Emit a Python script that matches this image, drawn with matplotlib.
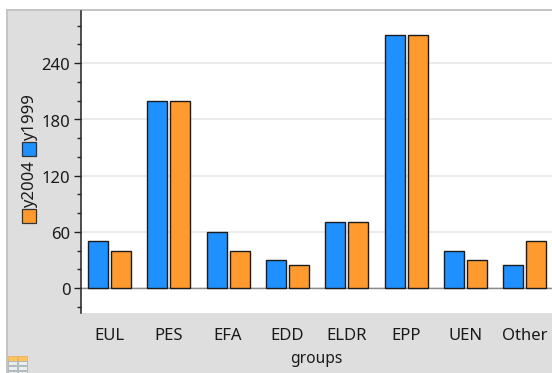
import matplotlib
matplotlib.use("Agg")
import matplotlib.pyplot as plt
from matplotlib.patches import Rectangle
from matplotlib.ticker import MultipleLocator
from matplotlib.transforms import ScaledTranslation
import numpy as np

groups = ["EUL", "PES", "EFA", "EDD", "ELDR", "EPP", "UEN", "Other"]
y1999 = [50, 200, 60, 30, 70, 270, 40, 25]
y2004 = [40, 200, 40, 25, 70, 270, 30, 50]

W, H = 552, 373
BLUE, ORANGE = "#1e90ff", "#ff9a2e"
BG = "#dedede"
TXT = "#1a1a1a"
plt.rcParams["font.family"] = ["Noto Sans", "DejaVu Sans"]
fig = plt.figure(figsize=(W / 100, H / 100), dpi=100, facecolor="white")

def fx(p): return p / W
def fy(p): return 1 - p / H

# panel background and its grey top/left border (behind the axes)
fig.add_artist(Rectangle((fx(7), 0), fx(W - 7), fy(11), transform=fig.transFigure, fc=BG, ec="none", zorder=-5))
fig.add_artist(Rectangle((fx(6), fy(11)), fx(W - 6), 2 / H, transform=fig.transFigure, fc="#c4c4c4", ec="none", zorder=-4))
fig.add_artist(Rectangle((fx(6), 0), 2 / W, fy(10), transform=fig.transFigure, fc="#c4c4c4", ec="none", zorder=-4))

ax = fig.add_axes([fx(81), fy(312.5), fx(W - 81), (312.5 - 11) / H])
ax.set_facecolor("white")
x = np.arange(len(groups))
bw, off = 0.335, 0.194
common = dict(edgecolor="#1c1c1c", linewidth=1.0, zorder=3)
ax.bar(x - off, y1999, bw, color=BLUE, **common)
ax.bar(x + off, y2004, bw, color=ORANGE, **common)

ax.set_xlim(-0.48, 7.46)
ax.set_ylim(-26, 295.5)
ax.yaxis.set_minor_locator(MultipleLocator(20))
ax.set_yticks([0, 60, 120, 180, 240])
ax.grid(axis="y", which="major", color="#e8e8e8", linewidth=1.2, zorder=0)
ax.axhline(0, color="#8a8a8a", linewidth=1, zorder=2)
for s in ("top", "right", "bottom"):
    ax.spines[s].set_visible(False)
ax.spines["left"].set_color("#222222")
ax.spines["left"].set_linewidth(1.1)
ax.tick_params(axis="y", which="major", length=5.2, width=1, labelsize=12, pad=2.5, color="#222222", labelcolor=TXT)
ax.tick_params(axis="y", which="minor", length=2.8, width=1, color="#222222")
ax.set_xticks(x, groups)
ax.tick_params(axis="x", length=0, labelsize=12, pad=11, labelcolor=TXT)
ax.set_xlabel("groups", color=TXT, fontsize=11.2, labelpad=5)
shift = ScaledTranslation(0, -1.2 / 100, fig.dpi_scale_trans)
for lab in ax.get_yticklabels():
    lab.set_transform(lab.get_transform() + shift)

# legend (rotated)
fig.text(fx(30), fy(118), "y1999", rotation=90, ha="center", va="center", fontsize=12, color=TXT)
fig.text(fx(30), fy(184.5), "y2004", rotation=90, ha="center", va="center", fontsize=12, color=TXT)
for top, c in ((142, BLUE), (209, ORANGE)):
    fig.add_artist(Rectangle((fx(22), fy(top + 14)), 14 / W, 14 / H, transform=fig.transFigure, fc=c, ec="#333333", lw=0.9))

# table icon
fig.add_artist(Rectangle((fx(8), fy(361)), 9 / W, 5 / H, transform=fig.transFigure, fc="#ffc45e", ec="#e8b060", lw=0.6))
fig.add_artist(Rectangle((fx(18), fy(361)), 9 / W, 5 / H, transform=fig.transFigure, fc="#ffc45e", ec="#e8b060", lw=0.6))
for yy in (361, 366, 371):
    for xx in (8, 18):
        fig.add_artist(Rectangle((fx(xx), fy(yy + 4)), 9 / W, 4 / H, transform=fig.transFigure, fc="#e9eef0", ec="#a9b4b8", lw=0.6))

fig.savefig("out.png", dpi=100, facecolor=fig.get_facecolor())
